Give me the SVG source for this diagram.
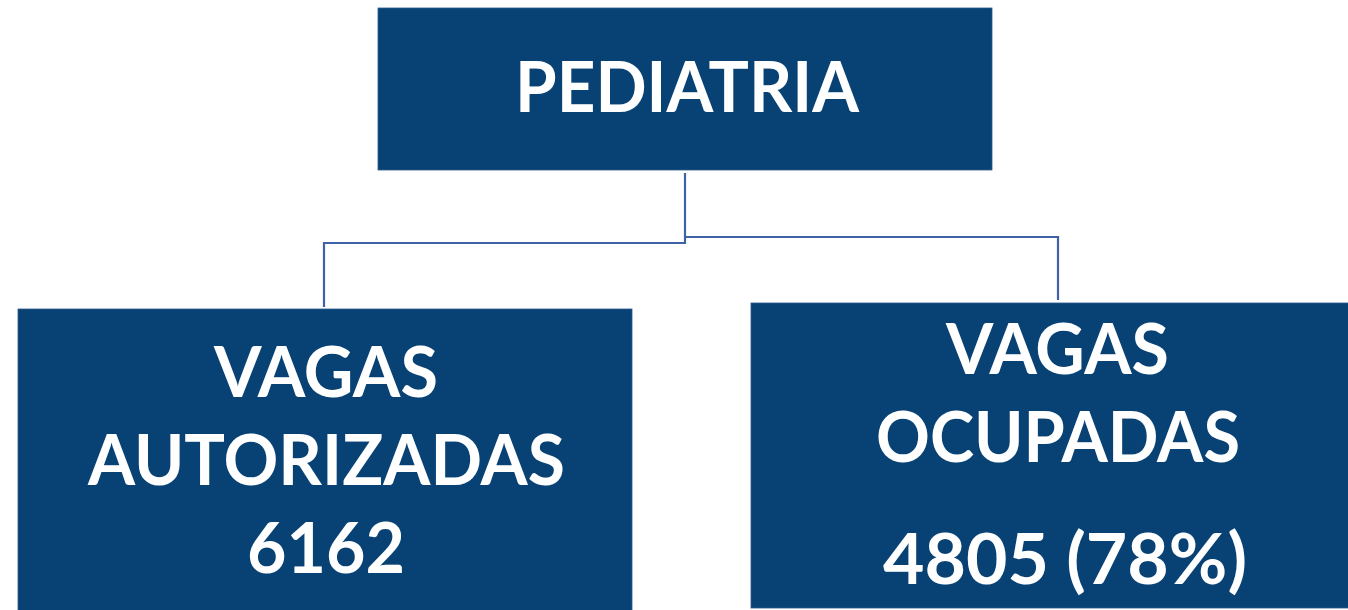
<svg xmlns="http://www.w3.org/2000/svg" width="1348" height="610" viewBox="0 0 1348 610">
<style>
.box{fill:#084274;stroke:#2f5a8c;stroke-width:0.8}
.t{font-family:Lato,"Open Sans","Liberation Sans",sans-serif;font-weight:bold;font-size:70px;fill:#ffffff}
.c{fill:none;stroke:#3f61a7;stroke-width:2.2}
</style>
<rect width="1348" height="610" fill="#ffffff"/>
<g id="connectors">
<polyline class="c" points="685,173 685,243 324,243 324,307"/>
<polyline class="c" points="685,237 1058,237 1058,300"/>
</g>
<g id="pediatria">
<rect class="box" x="378" y="8" width="614" height="162"/>
<text class="t" x="515" y="112" textLength="344" lengthAdjust="spacingAndGlyphs">PEDIATRIA</text>
</g>
<g id="autorizadas">
<rect class="box" x="18" y="309" width="614" height="305"/>
<text class="t" x="214" y="397" textLength="224" lengthAdjust="spacingAndGlyphs">VAGAS</text>
<text class="t" x="88" y="485" textLength="477" lengthAdjust="spacingAndGlyphs">AUTORIZADAS</text>
<text class="t" x="247" y="573" textLength="158" lengthAdjust="spacingAndGlyphs">6162</text>
</g>
<g id="ocupadas">
<rect class="box" x="751" y="303" width="600" height="305"/>
<text class="t" x="946" y="374" textLength="223" lengthAdjust="spacingAndGlyphs">VAGAS</text>
<text class="t" x="876" y="462" textLength="364" lengthAdjust="spacingAndGlyphs">OCUPADAS</text>
<text class="t" x="883" y="584" textLength="364" lengthAdjust="spacingAndGlyphs">4805 (78%)</text>
</g>
</svg>
